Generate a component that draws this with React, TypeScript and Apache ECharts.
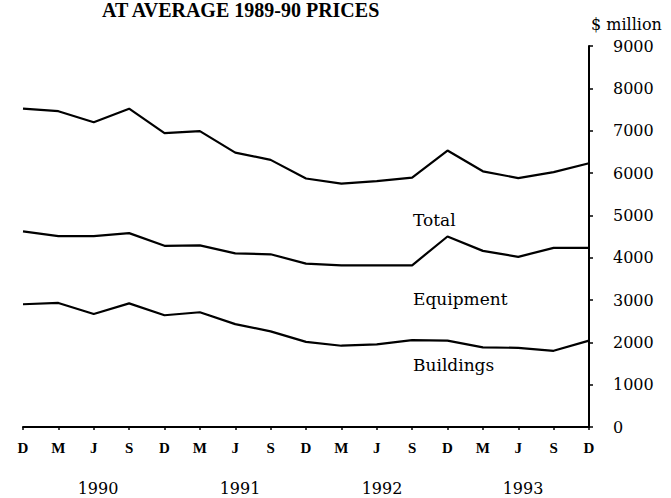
import React, { useEffect, useRef } from "react";
import * as echarts from "echarts";

const months = ["D", "M", "J", "S", "D", "M", "J", "S", "D", "M", "J", "S", "D", "M", "J", "S", "D"];
const years = ["1990", "1991", "1992", "1993"];
const total = [7520, 7460, 7200, 7520, 6940, 6990, 6480, 6310, 5870, 5750, 5810, 5890, 6530, 6040, 5880, 6020, 6230];
const equipment = [4620, 4510, 4510, 4580, 4280, 4290, 4100, 4080, 3860, 3820, 3820, 3820, 4500, 4160, 4020, 4230, 4230];
const buildings = [2900, 2930, 2670, 2920, 2640, 2710, 2430, 2260, 2010, 1920, 1950, 2050, 2040, 1880, 1870, 1800, 2040];
const seriesNames = ["Total", "Equipment", "Buildings"];

const SERIF = "'DejaVu Serif', serif";
const TIMES = "'Liberation Serif', 'Times New Roman', serif";

export default function App() {
  const ref = useRef<HTMLDivElement>(null);
  useEffect(() => {
    if (!ref.current) return;
    const chart = echarts.init(ref.current, null, { renderer: "svg" });
    const lineStyle = { color: "#000", width: 2.2 };
    const mk = (name: string, data: number[]) => ({
      name,
      type: "line",
      data,
      showSymbol: false,
      symbol: "none",
      lineStyle,
      silent: true,
    });
    const yearX = [98, 240, 382, 523];
    chart.setOption({
      animation: false,
      backgroundColor: "#fff",
      grid: { left: 23, right: 82, top: 46, bottom: 71, containLabel: false },
      xAxis: {
        type: "category",
        data: months,
        boundaryGap: false,
        axisLine: { lineStyle: { color: "#000", width: 2 } },
        axisTick: { show: true, length: 3, lineStyle: { color: "#000", width: 1.5 } },
        axisLabel: {
          color: "#000",
          fontFamily: TIMES,
          fontWeight: "bold",
          fontSize: 15,
          margin: 13,
          interval: 0,
        },
        splitLine: { show: false },
      },
      yAxis: {
        type: "value",
        position: "right",
        min: 0,
        max: 9000,
        interval: 1000,
        axisLine: { show: true, lineStyle: { color: "#000", width: 2 } },
        axisTick: { show: true, length: 4, lineStyle: { color: "#000", width: 1.5 } },
        axisLabel: {
          color: "#000",
          fontFamily: SERIF,
          fontSize: 16,
          margin: 24,
          padding: [8, 0, 0, 0],
          formatter: (v: number) => String(v),
        },
        splitLine: { show: false },
      },
      series: [
        mk(seriesNames[0], total),
        mk(seriesNames[1], equipment),
        mk(seriesNames[2], buildings),
      ],
      graphic: [
        {
          type: "text",
          left: 102,
          top: 0,
          style: {
            text: "AT AVERAGE 1989-90 PRICES",
            fill: "#000",
            font: `bold 20px ${TIMES}`,
          },
        },
        {
          type: "text",
          x: 591,
          y: 24,
          style: {
            text: "$ million",
            fill: "#000",
            font: `16px ${SERIF}`,
            verticalAlign: "middle",
          },
        },
        {
          type: "text",
          x: 413,
          y: 220,
          style: { text: seriesNames[0], fill: "#000", font: `17px ${SERIF}`, verticalAlign: "middle" },
        },
        {
          type: "text",
          x: 413,
          y: 299,
          style: { text: seriesNames[1], fill: "#000", font: `17px ${SERIF}`, verticalAlign: "middle" },
        },
        {
          type: "text",
          x: 413,
          y: 365,
          style: { text: seriesNames[2], fill: "#000", font: `17px ${SERIF}`, verticalAlign: "middle" },
        },
        ...years.map((yr, i) => ({
          type: "text",
          x: yearX[i],
          y: 488,
          style: {
            text: yr,
            fill: "#000",
            font: `16px ${SERIF}`,
            align: "center",
            verticalAlign: "middle",
          },
        })),
      ],
    });
    return () => chart.dispose();
  }, []);
  return (
    <div
      ref={ref}
      style={{ position: "fixed", left: 0, top: 0, width: 671, height: 498, background: "#fff" }}
    />
  );
}
